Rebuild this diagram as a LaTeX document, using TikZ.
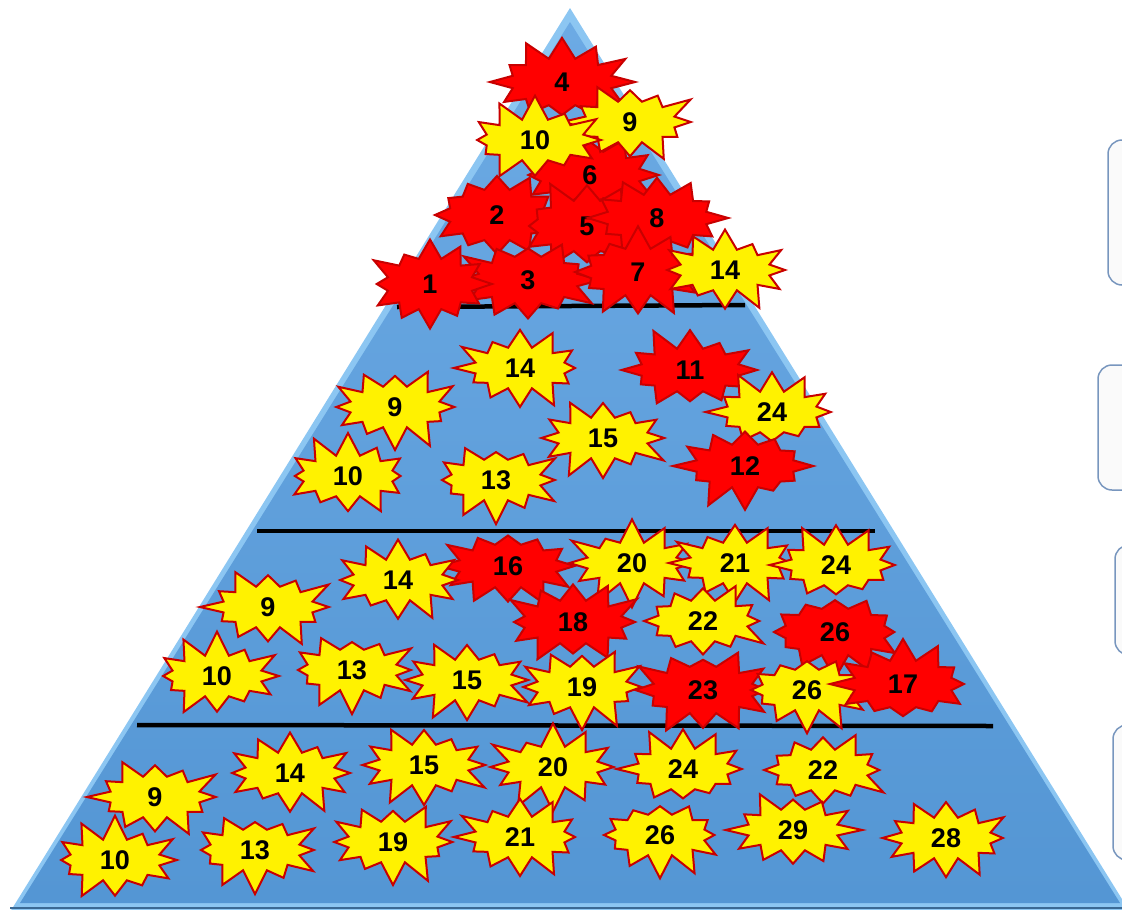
\documentclass[tikz,border=0pt]{standalone}
\usepackage{fontspec}
\setmainfont{Liberation Sans}
\usetikzlibrary{shapes.symbols}
\definecolor{pyrblue}{RGB}{84,150,212}
\definecolor{pyrtop}{RGB}{108,170,228}
\definecolor{pyredge}{RGB}{140,198,242}
\definecolor{burstline}{RGB}{200,0,0}
\definecolor{boxline}{RGB}{120,150,190}
\begin{document}
\begin{tikzpicture}[x=1pt,y=-1pt,
  burst/.style={starburst,starburst points=12,starburst point height=24pt,
    minimum width=140pt,minimum height=90pt,draw=burstline,line width=2pt,
    inner sep=0pt,font=\fontsize{27}{27}\selectfont\bfseries},
  redburst/.style={burst,fill=red,random starburst=#1},
  yelburst/.style={burst,fill=yellow,random starburst=#1},
  sidebox/.style={draw=boxline,line width=1.5pt,fill=gray!4,rounded corners=14pt}]
  \useasboundingbox (0,0) rectangle (1122,910);
  \clip (0,0) rectangle (1122,910);
  % pyramid
  \fill[pyredge] (570,8) -- (1130,912) -- (10,912) -- cycle;
  \shade[top color=pyrtop,bottom color=pyrblue] (570,22) -- (1120,903) -- (20,903) -- cycle;
  \draw[line width=2pt,pyrblue!70!black] (10,908) -- (1130,908);
  % side boxes (cut off at the right)
  \draw[sidebox] (1108,140) rectangle (1160,285);
  \draw[sidebox] (1098,365) rectangle (1160,490);
  \draw[sidebox] (1115,545) rectangle (1160,655);
  \draw[sidebox] (1113,725) rectangle (1160,860);
  % level lines
  \draw[line width=4.5pt] (397,307) -- (745,305);
  \draw[line width=4.5pt] (257,531) -- (875,531);
  \draw[line width=4.5pt] (137,725) -- (993,726);
  % top level
  \node[redburst=4,minimum width=150pt,minimum height=96pt] (t4) at (562,82) {4};
  \node[redburst=6,minimum width=150pt,minimum height=96pt] (t6) at (590,175) {6};
  \node[yelburst=9] (t9) at (630,122) {9};
  \node[yelburst=10,minimum width=148pt] (t10) at (535,140) {10};
  \node[redburst=2,minimum width=145pt,minimum height=100pt] (t2) at (497,215) {2};
  \node[redburst=5,minimum width=150pt,minimum height=100pt] (t5) at (587,226) {5};
  \node[redburst=8,minimum width=150pt,minimum height=96pt] (t8) at (657,218) {8};
  \node[redburst=3,minimum width=150pt,minimum height=96pt] (t3) at (528,280) {3};
  \node[redburst=1,minimum width=135pt,minimum height=100pt] (t1) at (430,284) {1};
  \node[redburst=7,minimum width=145pt,minimum height=96pt] (t7) at (638,272) {7};
  \node[yelburst=14] (t14) at (725,270) {14};
  % second level
  \node[yelburst=21] (m14) at (520,368) {14};
  \node[redburst=11,minimum width=148pt,minimum height=92pt] (m11) at (690,370) {11};
  \node[yelburst=19] (m9) at (395,407) {9};
  \node[yelburst=24] (m24) at (772,412) {24};
  \node[yelburst=15] (m15) at (603,438) {15};
  \node[redburst=12,minimum width=148pt,minimum height=92pt] (m12) at (745,466) {12};
  \node[yelburst=30] (m10) at (348,476) {10};
  \node[yelburst=13] (m13) at (496,480) {13};
  % third level
  \node[redburst=16,minimum width=148pt,minimum height=92pt] (n16) at (508,566) {16};
  \node[yelburst=20] (n20) at (632,563) {20};
  \node[yelburst=21] (n21) at (735,563) {21};
  \node[yelburst=24] (n24) at (836,565) {24};
  \node[yelburst=14] (n14) at (398,580) {14};
  \node[yelburst=9] (n9) at (268,607) {9};
  \node[redburst=18,minimum width=148pt,minimum height=92pt] (n18) at (573,622) {18};
  \node[yelburst=22] (n22) at (703,621) {22};
  \node[redburst=26,minimum width=150pt,minimum height=96pt] (n26r) at (835,632) {26};
  \node[yelburst=10] (n10) at (217,676) {10};
  \node[yelburst=13] (n13) at (352,670) {13};
  \node[yelburst=15] (n15) at (467,680) {15};
  \node[yelburst=19] (n19) at (582,687) {19};
  \node[redburst=23,minimum width=150pt,minimum height=96pt] (n23) at (703,690) {23};
  \node[yelburst=26] (n26) at (807,690) {26};
  \node[redburst=17,minimum width=148pt,minimum height=96pt] (n17) at (903,684) {17};
  % bottom level
  \node[yelburst=14] (b14) at (290,773) {14};
  \node[yelburst=15] (b15) at (424,765) {15};
  \node[yelburst=20] (b20) at (553,767) {20};
  \node[yelburst=24] (b24) at (683,769) {24};
  \node[yelburst=22] (b22) at (823,770) {22};
  \node[yelburst=9] (b9) at (155,797) {9};
  \node[yelburst=29] (b29) at (793,830) {29};
  \node[yelburst=28] (b28) at (946,838) {28};
  \node[yelburst=13] (b13) at (255,850) {13};
  \node[yelburst=19] (b19) at (393,842) {19};
  \node[yelburst=21] (b21) at (520,837) {21};
  \node[yelburst=26] (b26) at (660,835) {26};
  \node[yelburst=10] (b10) at (115,860) {10};
\end{tikzpicture}
\end{document}
